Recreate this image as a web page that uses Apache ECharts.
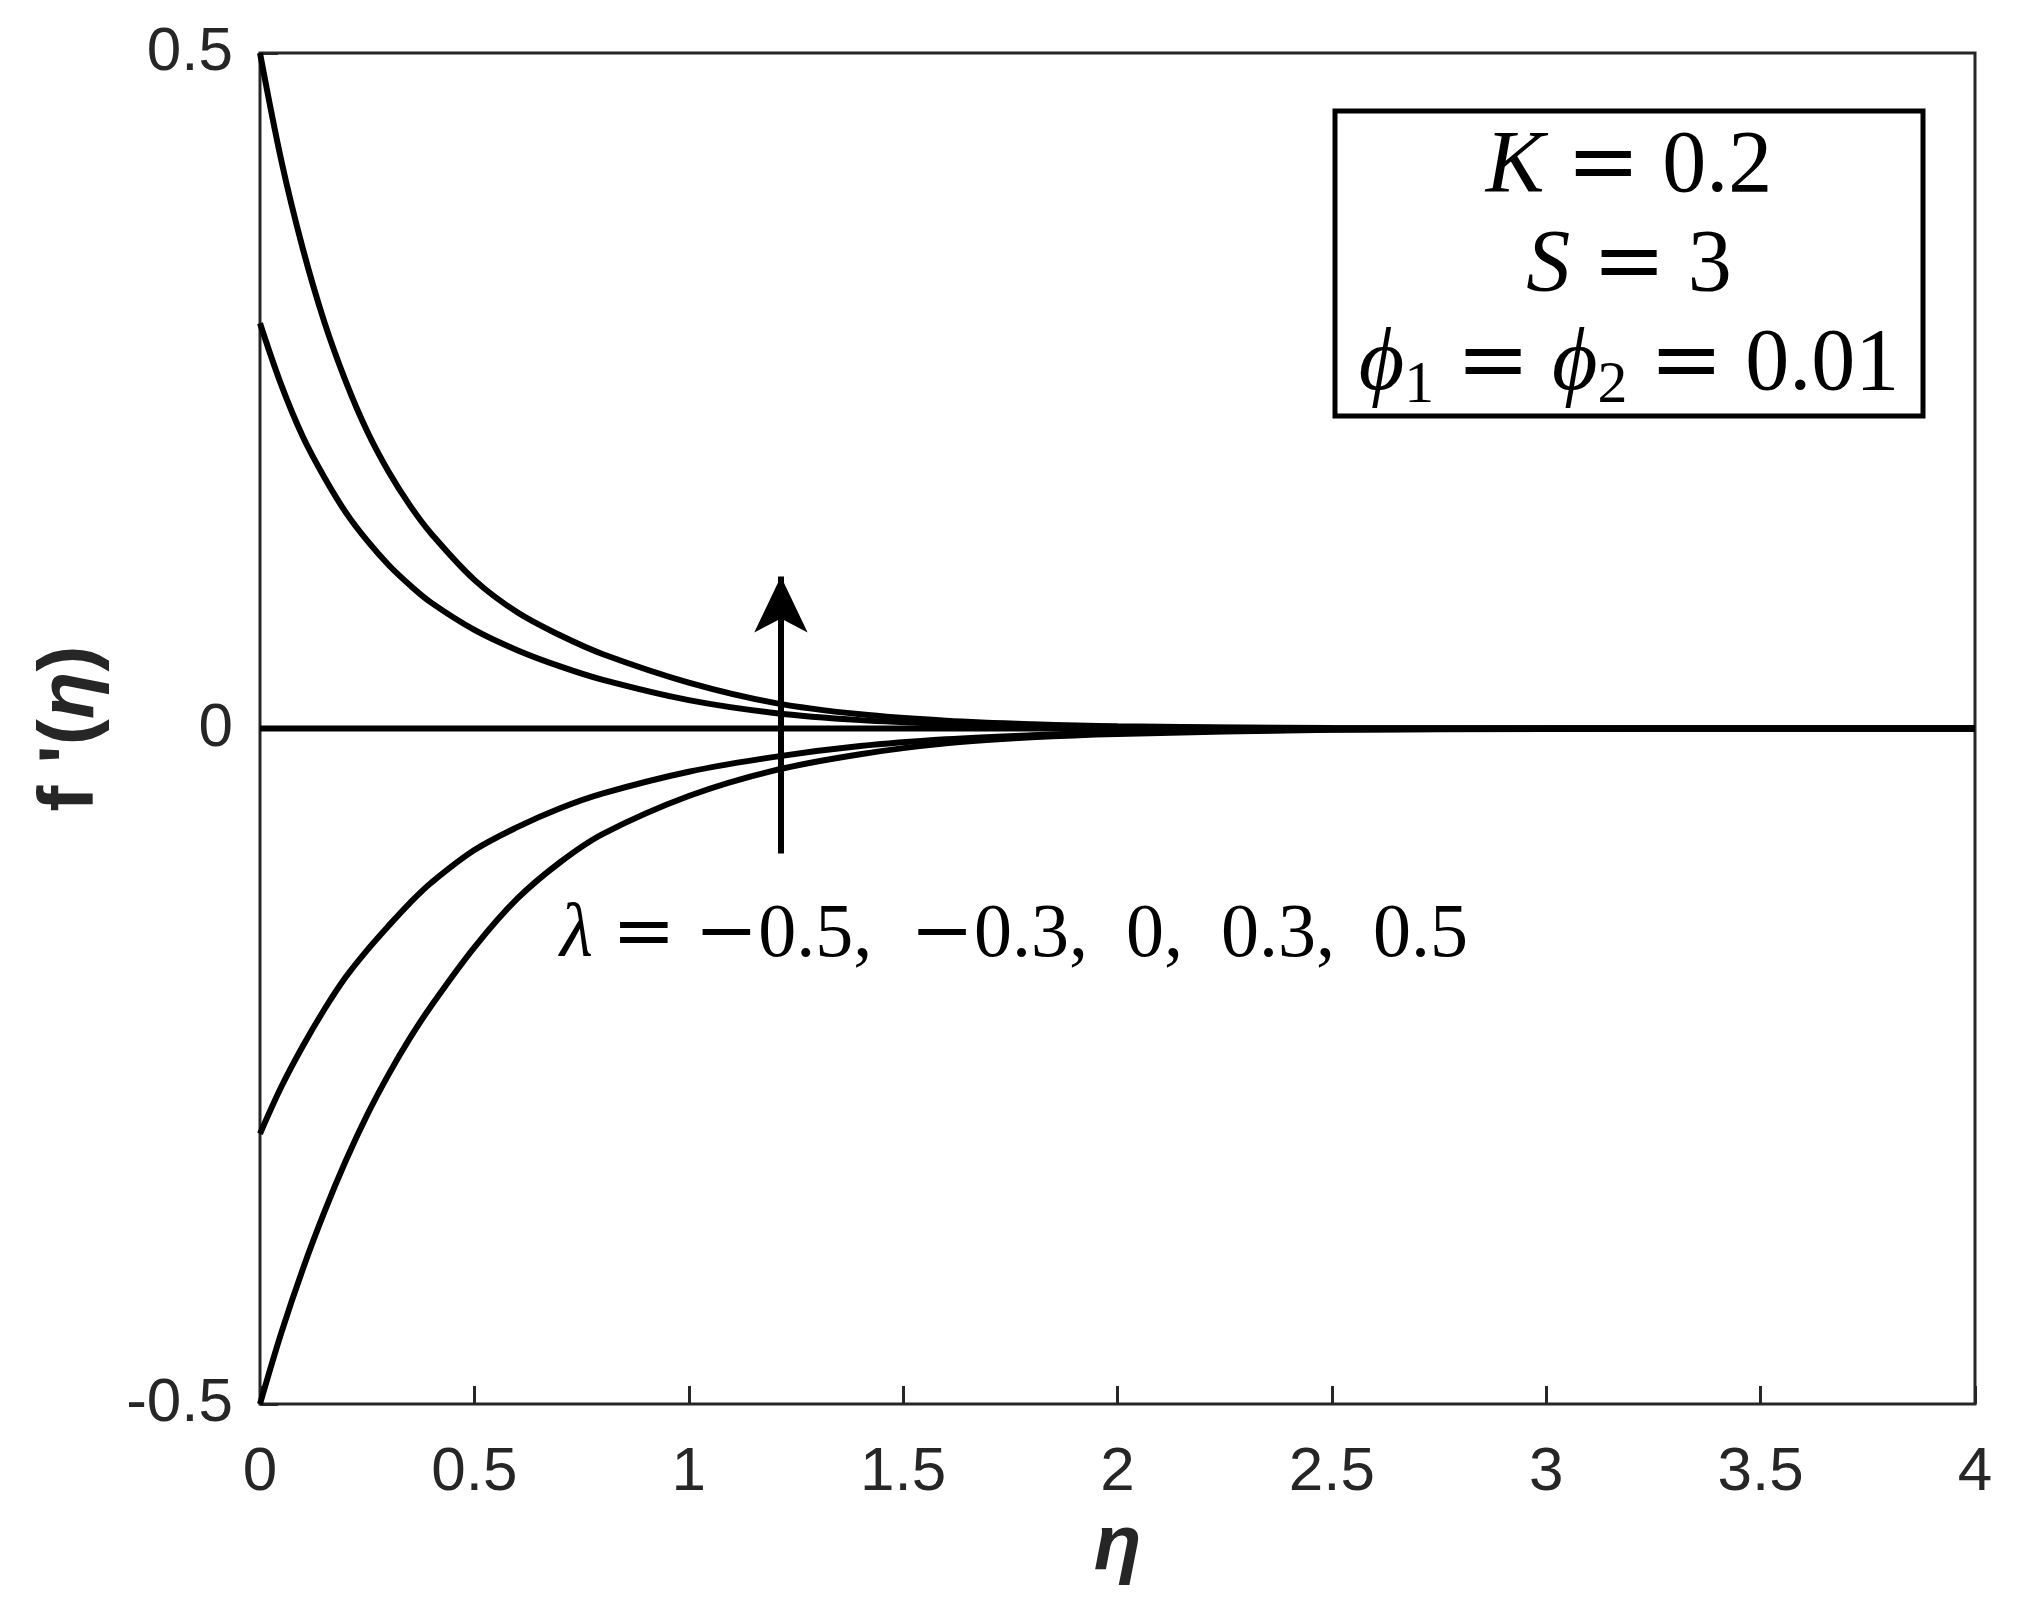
<!DOCTYPE html>
<html lang="en">
<head>
    <meta charset="UTF-8">
    <script src="https://cdn.jsdelivr.net/npm/echarts@6/dist/echarts.min.js"></script>
    <title>f'(eta) profiles</title>
    <style>
        html, body{
            margin: 0;
            padding: 0;
            background: #fff;
        }
        #chart{
            width: 2032px;
            height: 1608px;
        }
    </style>
</head>
<body>
    <div id="chart"></div>
    <script>
        // eta grid
        const eta = [0, 0.05, 0.1, 0.15, 0.2, 0.25, 0.3, 0.35, 0.4, 0.5, 0.6, 0.7, 0.8, 1.0, 1.2, 1.4, 1.6, 1.8, 2.0, 2.5, 3.0, 3.5, 4.0]

        // f'(eta) for each lambda
        const lamM05 = [-0.5, -0.447, -0.400, -0.358, -0.320, -0.286, -0.256, -0.229, -0.205, -0.162, -0.126, -0.099, -0.078, -0.050, -0.031, -0.019, -0.011, -0.0065, -0.004, -0.001, -0.0003, 0, 0]
        const lamM03 = [-0.3, -0.265, -0.235, -0.208, -0.184, -0.164, -0.146, -0.129, -0.114, -0.090, -0.073, -0.059, -0.048, -0.032, -0.021, -0.013, -0.008, -0.005, -0.003, -0.0008, -0.0002, 0, 0]
        const lam0   = [0, 0, 0, 0, 0, 0, 0, 0, 0, 0, 0, 0, 0, 0, 0, 0, 0, 0, 0, 0, 0, 0, 0]
        const lamP03 = [0.3, 0.254, 0.216, 0.186, 0.160, 0.139, 0.121, 0.106, 0.093, 0.073, 0.058, 0.046, 0.036, 0.021, 0.0115, 0.0062, 0.0034, 0.0018, 0.001, 0.0002, 0, 0, 0]
        const lamP05 = [0.5, 0.42, 0.355, 0.301, 0.257, 0.220, 0.190, 0.165, 0.144, 0.110, 0.086, 0.069, 0.055, 0.034, 0.019, 0.0105, 0.0058, 0.0032, 0.0017, 0.0003, 0.0001, 0, 0]

        const curves = [lamM05, lamM03, lam0, lamP03, lamP05]
        const curveNames = ['-0.5', '-0.3', '0', '0.3', '0.5']

        // arrow (data coords): tail and tip
        const arrowEta = 1.215
        const arrowFrom = -0.0926
        const arrowTo = 0.1126

        const axisColor = '#262626'

        let myChart = echarts.init(document.getElementById('chart'), null, { renderer: 'canvas' })

        // math-ish text: italic letters, wide = and minus
        const mathRich = (size) => ({
            i: { fontStyle: 'italic', fontFamily: 'Liberation Serif', fontSize: size },
            o: { fontFamily: 'DejaVu Serif', fontSize: size },
            s: { fontFamily: 'Liberation Serif', fontSize: size * 0.68, padding: [size * 0.45, 0, 0, 0] }
        })

        let option = {
            backgroundColor: '#fff',
            animation: false,
            grid: {
                left: 260,
                right: 57,
                top: 53,
                bottom: 204,
                show: true,
                borderColor: axisColor,
                borderWidth: 3,
                containLabel: false,
                outerBoundsMode: 'none'
            },
            xAxis: {
                type: 'value',
                min: 0,
                max: 4,
                interval: 0.5,
                name: 'η',
                nameLocation: 'middle',
                nameGap: 103,
                nameTextStyle: {
                    fontFamily: 'Liberation Sans',
                    fontWeight: 'bold',
                    fontStyle: 'italic',
                    fontSize: 78,
                    color: axisColor
                },
                axisLine: { show: false, onZero: false },
                axisTick: {
                    show: true,
                    inside: true,
                    length: 18,
                    lineStyle: { color: axisColor, width: 3 }
                },
                axisLabel: {
                    margin: 38,
                    fontFamily: 'Liberation Sans',
                    fontSize: 62,
                    color: axisColor
                },
                splitLine: { show: false }
            },
            yAxis: {
                type: 'value',
                min: -0.5,
                max: 0.5,
                interval: 0.5,
                name: "f '({e|η})",
                nameLocation: 'middle',
                nameRotate: 90,
                nameGap: 150,
                nameTextStyle: {
                    fontFamily: 'Liberation Sans',
                    fontWeight: 'bold',
                    fontSize: 78,
                    color: axisColor,
                    rich: {
                        e: {
                            fontFamily: 'Liberation Sans',
                            fontWeight: 'bold',
                            fontStyle: 'italic',
                            fontSize: 78,
                            color: axisColor
                        }
                    }
                },
                axisLine: { show: false, onZero: false },
                axisTick: {
                    show: true,
                    inside: true,
                    length: 18,
                    lineStyle: { color: axisColor, width: 3 }
                },
                axisLabel: {
                    margin: 27,
                    fontFamily: 'Liberation Sans',
                    fontSize: 62,
                    color: axisColor
                },
                splitLine: { show: false }
            },
            series: curves.map((vals, i) => ({
                name: curveNames[i],
                type: 'line',
                data: eta.map((x, j) => [x, vals[j]]),
                showSymbol: false,
                smooth: 0.35,
                lineStyle: { color: '#000', width: 6 },
                z: 3,
                // arrow goes on the flat curve
                markLine: i === 2 ? {
                    silent: true,
                    symbol: ['none', 'arrow'],
                    label: { show: false },
                    lineStyle: { color: '#000', width: 6, type: 'solid' },
                    data: [[
                        { coord: [arrowEta, arrowFrom], symbol: 'none' },
                        { coord: [arrowEta, arrowTo], symbol: 'arrow', symbolSize: [40, 56] }
                    ]]
                } : undefined
            })),
            graphic: [
                // parameter box
                {
                    type: 'rect',
                    shape: { x: 1335, y: 111, width: 588, height: 305 },
                    style: { fill: '#fff', stroke: '#000', lineWidth: 5 },
                    z: 10
                },
                {
                    type: 'text',
                    x: 1629, y: 168,
                    style: {
                        text: '{i|K} {o|=} 0.2',
                        align: 'center', verticalAlign: 'middle',
                        font: '88px "Liberation Serif"',
                        fill: '#000',
                        rich: mathRich(88)
                    },
                    z: 11
                },
                {
                    type: 'text',
                    x: 1629, y: 267,
                    style: {
                        text: '{i|S} {o|=} 3',
                        align: 'center', verticalAlign: 'middle',
                        font: '88px "Liberation Serif"',
                        fill: '#000',
                        rich: mathRich(88)
                    },
                    z: 11
                },
                {
                    type: 'text',
                    x: 1629, y: 366,
                    style: {
                        text: '{i|ϕ}{s|1} {o|=} {i|ϕ}{s|2} {o|=} 0.01',
                        align: 'center', verticalAlign: 'middle',
                        font: '88px "Liberation Serif"',
                        fill: '#000',
                        rich: mathRich(88)
                    },
                    z: 11
                },
                // lambda annotation
                {
                    type: 'text',
                    x: 1014, y: 936,
                    style: {
                        text: '{i|λ} {o|=} {o|−}0.5,\u2002{o|−}0.3,\u20020,\u20020.3,\u20020.5',
                        align: 'center', verticalAlign: 'middle',
                        font: '76px "Liberation Serif"',
                        fill: '#000',
                        rich: mathRich(76)
                    },
                    z: 11
                }
            ]
        }
        myChart.setOption(option)
    </script>
</body>
</html>
